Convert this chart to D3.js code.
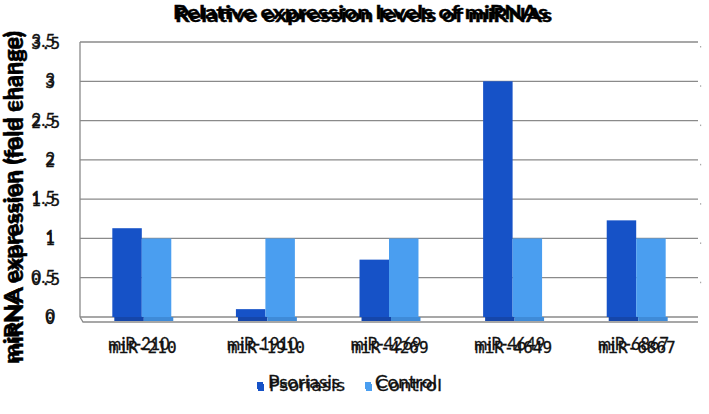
<!DOCTYPE html>
<html><head><meta charset="utf-8">
<script src="https://cdn.jsdelivr.net/npm/d3@7"></script>
<style>body{margin:0;background:#fff}svg{display:block}</style>
</head><body>
<svg id="c" width="709" height="414"></svg>
<script>
const categories = ["miR-210","miR-1910","miR-4269","miR-4649","miR-6867"];
const seriesNames = ["Psoriasis","Control"];
const psoriasis = [1.13, 0.10, 0.73, 3.0, 1.23];
const control = [1.0, 1.0, 1.0, 1.0, 1.0];
const yTicks = [0, 0.5, 1, 1.5, 2, 2.5, 3, 3.5];
const yTickLabels = ["0","0.5","1","1.5","2","2.5","3","3.5"];
const titleText = "Relative expression levels of miRNAs";
const yTitleText = "miRNA expression (fold change)";

const colors = {Psoriasis:"#1652c7", Control:"#4a9ef0"};
const shadow = {Psoriasis:"#1546aa", Control:"#3f8bd8"};
const values = {Psoriasis: psoriasis, Control: control};

const svg = d3.select("#c");
const L = 80, R = 698, T = 42, B = 317;
const y = d3.scaleLinear().domain([0,3.5]).range([B,T]);
const p = 0.523;
const x = d3.scaleBand().domain(categories).range([L,R]).paddingInner(p).paddingOuter(p/2);
const xs = d3.scaleBand().domain(seriesNames).range([0,x.bandwidth()]);

const FA = "Lato, 'Open Sans', sans-serif";
const FM = "'DejaVu Sans Mono', monospace";
const FS = "'DejaVu Sans', sans-serif";

// gridlines
svg.append("g").selectAll("line").data(yTicks).join("line")
  .attr("x1",L).attr("x2",R).attr("y1",d=>y(d)).attr("y2",d=>y(d))
  .attr("stroke","#8a8a8a").attr("stroke-width",1.3);
svg.append("g").selectAll("rect").data(yTicks.filter(d=>d>0)).join("rect")
  .attr("x",R+2).attr("y",d=>y(d)+4).attr("width",1.2).attr("height",1.5).attr("fill","#aaa");
svg.append("line").attr("x1",L).attr("x2",L).attr("y1",T).attr("y2",B)
  .attr("stroke","#8a8a8a").attr("stroke-width",1.3);
svg.append("path").attr("d",`M${L},${B} L${L+3},${B+5} L${R},${B+5}`)
  .attr("fill","none").attr("stroke","#8a8a8a").attr("stroke-width",1.3);

// bar shadows
categories.forEach(c=>{
  seriesNames.forEach(s=>{
    svg.append("rect").attr("x",x(c)+xs(s)+2).attr("y",y(0)).attr("width",xs.bandwidth())
      .attr("height",4).attr("fill",shadow[s]);
  });
});
// bars
categories.forEach((c,i)=>{
  seriesNames.forEach(s=>{
    const v = values[s][i];
    svg.append("rect").attr("x",x(c)+xs(s)).attr("y",y(v)).attr("width",xs.bandwidth())
      .attr("height",y(0)-y(v)).attr("fill",colors[s]);
  });
});

// title: two overlapping copies as in the reference
[[173,19,375],[175,22,377]].forEach(([tx,ty,len])=>{
  svg.append("text").attr("x",tx).attr("y",ty).attr("font-family",FA).attr("font-weight","bold")
    .attr("font-size",19).attr("fill","#000").attr("stroke","#000").attr("stroke-width",0.4)
    .attr("textLength",len).attr("lengthAdjust","spacingAndGlyphs").text(titleText);
});

// y title: two copies
[[19,364,333],[23,362,331]].forEach(([tx,ty,len])=>{
  svg.append("text").attr("transform",`translate(${tx},${ty}) rotate(-90)`)
    .attr("font-family",FA).attr("font-weight","bold").attr("font-size",20)
    .attr("fill","#000").attr("stroke","#000").attr("stroke-width",0.4)
    .attr("textLength",len).attr("lengthAdjust","spacingAndGlyphs").text(yTitleText);
});

// y tick labels: two copies
yTicks.forEach((t,i)=>{
  const a = svg.append("text").attr("x",55).attr("y",y(t)+5).attr("text-anchor","end")
    .attr("font-family",FA).attr("font-size",17).attr("fill","#111")
    .attr("stroke","#111").attr("stroke-width",0.3).text(yTickLabels[i]);
  const bb = a.node().getBBox();
  svg.append("text").attr("x",bb.x).attr("y",y(t)+7)
    .attr("font-family",FM).attr("font-size",16).attr("fill","#111")
    .attr("stroke","#111").attr("stroke-width",0.3).text(yTickLabels[i]);
});

// category labels: two copies
categories.forEach(c=>{
  const cx = x(c)+x.bandwidth()/2;
  const b = svg.append("text").attr("x",cx+1).attr("y",353).attr("text-anchor","middle")
    .attr("font-family",FM).attr("font-size",16).attr("fill","#111")
    .attr("stroke","#111").attr("stroke-width",0.3).text(c);
  const bb = b.node().getBBox();
  svg.append("text").attr("x",bb.x-1).attr("y",350)
    .attr("font-family",FA).attr("font-size",17).attr("fill","#111")
    .attr("stroke","#111").attr("stroke-width",0.3)
    .attr("textLength",bb.width-6).attr("lengthAdjust","spacingAndGlyphs").text(c);
});

// legend: doubled swatches and labels
const leg = [{s:"Psoriasis",sx:257,tx:268,len:76},{s:"Control",sx:365,tx:375,len:66}];
leg.forEach(d=>{
  svg.append("rect").attr("x",d.sx).attr("y",382).attr("width",6).attr("height",7).attr("fill",colors[d.s]);
  svg.append("rect").attr("x",d.sx+1).attr("y",384).attr("width",6).attr("height",7).attr("fill",colors[d.s]);
  svg.append("text").attr("x",d.tx).attr("y",388).attr("font-family",FA).attr("font-size",17)
    .attr("fill","#111").attr("stroke","#111").attr("stroke-width",0.3)
    .attr("textLength",d.len-4).attr("lengthAdjust","spacingAndGlyphs").text(d.s);
  svg.append("text").attr("x",d.tx+1).attr("y",391).attr("font-family",FS).attr("font-size",16)
    .attr("fill","#111").attr("stroke","#111").attr("stroke-width",0.3)
    .attr("textLength",d.len).attr("lengthAdjust","spacingAndGlyphs").text(d.s);
});
</script>
</body></html>
